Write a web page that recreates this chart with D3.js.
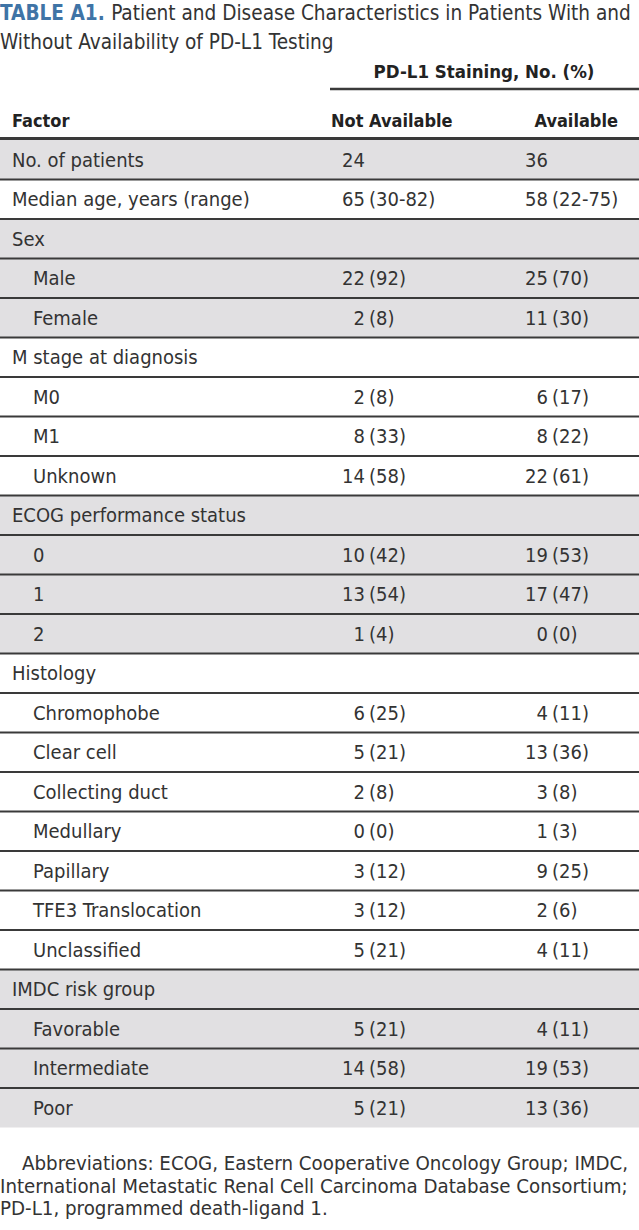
<!DOCTYPE html>
<html>
<head>
<meta charset="utf-8">
<script src="https://cdn.jsdelivr.net/npm/d3@7"></script>
<style>
  body { margin: 0; background: #fff; }
  svg text { font-family: "Liberation Sans Narrow", "Arial Narrow", "DejaVu Sans Condensed", sans-serif; }
</style>
</head>
<body>
<div id="chart"></div>
<script>
// table content
var factors = ["No. of patients","Median age, years (range)","Sex","Male","Female",
  "M stage at diagnosis","M0","M1","Unknown","ECOG performance status","0","1","2",
  "Histology","Chromophobe","Clear cell","Collecting duct","Medullary","Papillary",
  "TFE3 Translocation","Unclassified","IMDC risk group","Favorable","Intermediate","Poor"]
var indent = [0,0,0,1,1, 0,1,1,1, 0,1,1,1, 0,1,1,1,1,1,1,1, 0,1,1,1]
var group  = [0,1,2,2,2, 3,3,3,3, 4,4,4,4, 5,5,5,5,5,5,5,5, 6,6,6,6]
var notAvailable = ["24","65 (30-82)","","22 (92)","2 (8)","","2 (8)","8 (33)","14 (58)",
  "","10 (42)","13 (54)","1 (4)","","6 (25)","5 (21)","2 (8)","0 (0)","3 (12)","3 (12)",
  "5 (21)","","5 (21)","14 (58)","5 (21)"]
var available = ["36","58 (22-75)","","25 (70)","11 (30)","","6 (17)","8 (22)","22 (61)",
  "","19 (53)","17 (47)","0 (0)","","4 (11)","13 (36)","3 (8)","1 (3)","9 (25)","2 (6)",
  "4 (11)","","4 (11)","19 (53)","13 (36)"]
var columns = ["Factor","Not Available","Available"]
var footnote = ["Abbreviations: ECOG, Eastern Cooperative Oncology Group; IMDC,",
  "International Metastatic Renal Cell Carcinoma Database Consortium;",
  "PD-L1, programmed death-ligand 1."]

var w = 639, h = 1230
var ink = "#333", rule = "#3a3a3a", shade = "#e1e0e2"

var svg = d3.select("#chart").append("svg").attr("width",w).attr("height",h)

// title
var title = svg.append("text").attr("x",0).attr("y",20).style("font-size","20.6px").attr("fill",ink)
title.append("tspan").text("TABLE A1. ").attr("fill","#3f74a6").style("font-weight","bold")
title.append("tspan").text("Patient and Disease Characteristics in Patients With and")
svg.append("text").attr("x",0).attr("y",49).style("font-size","20.6px").attr("fill",ink)
  .text("Without Availability of PD-L1 Testing")

// column positions (number end / paren start for value columns)
var numEnd = d3.scaleOrdinal().domain(columns.slice(1)).range([365,548])

var y = d3.scaleBand().domain(d3.range(factors.length)).range([140,1127.5])

// header
svg.append("text").attr("x",484).attr("y",78).attr("text-anchor","middle")
  .style("font-size","18.5px").style("font-weight","bold").attr("fill","#222")
  .text("PD-L1 Staining, No. (%)")
svg.append("line").attr("x1",330).attr("x2",w).attr("y1",89).attr("y2",89)
  .attr("stroke",rule).attr("stroke-width",2.5)
svg.append("text").attr("x",12).attr("y",127).style("font-size","18px").style("font-weight","bold")
  .attr("fill","#222").text(columns[0])
svg.append("text").attr("x",331).attr("y",127).style("font-size","18px").style("font-weight","bold")
  .attr("fill","#222").text(columns[1])
svg.append("text").attr("x",618).attr("y",127).attr("text-anchor","end").style("font-size","18px")
  .style("font-weight","bold").attr("fill","#222").text(columns[2])

var rows = svg.selectAll(".row").data(factors).enter().append("g").attr("class","row")
  .attr("transform",function(d,i){ return "translate(0,"+y(i)+")" })

rows.append("rect").attr("width",w).attr("height",y.bandwidth())
  .attr("fill",function(d,i){ return group[i]%2==0 ? shade : "#fff" })

rows.append("text").attr("x",function(d,i){ return indent[i] ? 33 : 12 })
  .attr("y",y.bandwidth()/2+7).style("font-size","20px").attr("fill",ink)
  .text(function(d){ return d })

// value cells: number right-aligned, parenthesis left-aligned
function cell(vals,col){
  rows.append("text").attr("x",numEnd(col)).attr("y",y.bandwidth()/2+7).attr("text-anchor","end")
    .style("font-size","20px").attr("fill",ink)
    .text(function(d,i){ return vals[i].split(" ")[0] })
  rows.append("text").attr("x",numEnd(col)+4).attr("y",y.bandwidth()/2+7)
    .style("font-size","20px").attr("fill",ink)
    .text(function(d,i){ var p = vals[i].split(" "); return p.length>1 ? p[1] : "" })
}
cell(notAvailable,"Not Available")
cell(available,"Available")

// separators
svg.selectAll(".sep").data(d3.range(1,factors.length)).enter().append("line")
  .attr("x1",0).attr("x2",w).attr("y1",function(i){ return y(i) }).attr("y2",function(i){ return y(i) })
  .attr("stroke",rule).attr("stroke-width",2)
svg.append("line").attr("x1",0).attr("x2",w).attr("y1",138.5).attr("y2",138.5)
  .attr("stroke",rule).attr("stroke-width",3)

// footnote
svg.selectAll(".fn").data(footnote).enter().append("text")
  .attr("x",function(d,i){ return i==0 ? 22 : 0 }).attr("y",function(d,i){ return 1170+i*22.5 })
  .style("font-size","20.3px").attr("fill",ink).text(function(d){ return d })
</script>
</body>
</html>
